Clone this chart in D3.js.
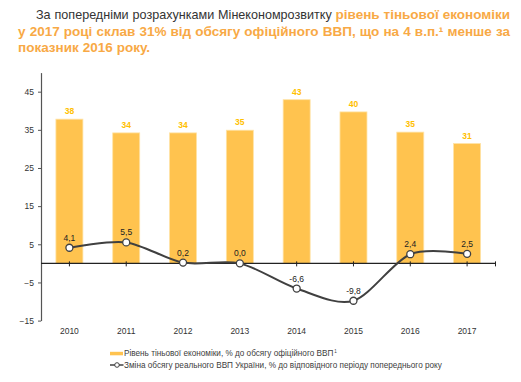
<!DOCTYPE html>
<meta charset="utf-8">
<style>
body { margin: 0; background: #fff; font-family: Arial, "Liberation Sans", sans-serif; }
.axis text { font-size: 8.5px; fill: #333; }
.lbl { font-size: 8.5px; fill: #333; }
.barlbl { font-size: 8.5px; font-weight: bold; fill: #FFC000; }
.legend text { font-size: 8.2px; fill: #404040; }
</style>
<svg width="521" height="382"></svg>
<script src="https://d3js.org/d3.v7.min.js"></script>
<script>

var years = ["2010", "2011", "2012", "2013", "2014", "2015", "2016", "2017"];
var shadow = [37.8, 34.2, 34.2, 34.9, 42.9, 39.7, 34.4, 31.4];
var shadowLabels = ["38", "34", "34", "35", "43", "40", "35", "31"];
var gdp = [4.1, 5.5, 0.2, 0.0, -6.6, -9.8, 2.4, 2.5];
var gdpLabels = ["4,1", "5,5", "0,2", "0,0", "-6,6", "-9,8", "2,4", "2,5"];
var yTicks = [45, 35, 25, 15, 5, -5, -15];

var svg = d3.select("svg");

// --- heading, justified by hand
var gray = "#333", orange = "#F8A945";
var heading = [
  {x: 36, y: 19, justify: true, parts: [
    {t: "За попередніми розрахунками Мінекономрозвитку", bold: false},
    {t: "рівень тіньової економіки", bold: true}]},
  {x: 18, y: 35.5, justify: true, parts: [
    {t: "у 2017 році склав 31% від обсягу офіційного ВВП, що на 4 в.п.¹ менше за", bold: true}]},
  {x: 18, y: 51.5, justify: false, parts: [
    {t: "показник 2016 року.", bold: true}]}
];
var right = 510;
heading.forEach(function(line) {
  var words = [];
  line.parts.forEach(function(p) {
    p.t.split(" ").forEach(function(w) { words.push({w: w, bold: p.bold}); });
  });
  var nodes = words.map(function(d) {
    return svg.append("text")
      .attr("y", line.y)
      .style("font-size", d.bold ? "13.5px" : "12.6px")
      .style("font-weight", d.bold ? "bold" : "normal")
      .attr("fill", d.bold ? orange : gray)
      .text(d.w);
  });
  var widths = nodes.map(function(n) { return n.node().getComputedTextLength(); });
  var total = d3.sum(widths);
  var gap = line.justify ? (right - line.x - total) / (words.length - 1) : 4;
  var cx = line.x;
  nodes.forEach(function(n, i) {
    n.attr("x", cx);
    cx += widths[i] + gap;
  });
});

// --- chart
var left = 41, plotRight = 495.5;
var x = d3.scaleBand().domain(years).range([left, plotRight]);
var y = d3.scaleLinear().domain([-15, 50]).range([320.6, 72.6]);
var cxOf = function(i) { return x(years[i]) + x.bandwidth() / 2; };
var bw = 27;

var g = svg.append("g");

g.selectAll("rect.bar").data(shadow).enter().append("rect")
  .attr("class", "bar")
  .attr("x", function(d, i) { return cxOf(i) - bw / 2; })
  .attr("width", bw)
  .attr("y", function(d) { return y(d); })
  .attr("height", function(d) { return y(0) - y(d); })
  .attr("fill", "#FFC34F")
  .attr("stroke", "#FFE3A6")
  .attr("stroke-width", 0.8);

g.selectAll("text.barlbl").data(shadow).enter().append("text")
  .attr("class", "barlbl")
  .attr("x", function(d, i) { return cxOf(i); })
  .attr("y", function(d) { return y(d) - 5; })
  .attr("text-anchor", "middle")
  .text(function(d, i) { return shadowLabels[i]; });

// y axis
var yAxis = g.append("g").attr("class", "axis")
  .attr("transform", "translate(" + left + ",0)")
  .call(d3.axisLeft(y).tickValues(yTicks).tickSize(3).tickPadding(4).tickSizeOuter(0));
yAxis.select(".domain").attr("stroke", "#555").attr("stroke-width", 1.2);
yAxis.selectAll(".tick line").attr("stroke", "#555");

// zero line with ticks at category centres
g.append("line")
  .attr("x1", left).attr("x2", plotRight)
  .attr("y1", y(0)).attr("y2", y(0))
  .attr("stroke", "#222").attr("stroke-width", 1.3);
g.selectAll("line.ztick").data(years.concat(["end"])).enter().append("line")
  .attr("class", "ztick")
  .attr("x1", function(d, i) { return i < years.length ? cxOf(i) : plotRight; })
  .attr("x2", function(d, i) { return i < years.length ? cxOf(i) : plotRight; })
  .attr("y1", y(0) - 2).attr("y2", y(0) + 3)
  .attr("stroke", "#222");

// category labels
g.selectAll("text.xl").data(years).enter().append("text")
  .attr("class", "lbl")
  .attr("x", function(d, i) { return cxOf(i); })
  .attr("y", 334)
  .attr("text-anchor", "middle")
  .text(function(d) { return d; });

// gdp line
var line = d3.line()
  .curve(d3.curveCardinal.tension(0.1))
  .x(function(d, i) { return cxOf(i); })
  .y(function(d) { return y(d); });

g.append("path").datum(gdp)
  .attr("d", line)
  .attr("fill", "none")
  .attr("stroke", "#404040")
  .attr("stroke-width", 2);

g.selectAll("circle.pt").data(gdp).enter().append("circle")
  .attr("cx", function(d, i) { return cxOf(i); })
  .attr("cy", function(d) { return y(d); })
  .attr("r", 3.5)
  .attr("fill", "#fff")
  .attr("stroke", "#404040")
  .attr("stroke-width", 1.3);

g.selectAll("text.gl").data(gdp).enter().append("text")
  .attr("class", "lbl")
  .attr("x", function(d, i) { return cxOf(i); })
  .attr("y", function(d) { return y(d) - 7; })
  .attr("text-anchor", "middle")
  .style("fill", "#222")
  .text(function(d, i) { return gdpLabels[i]; });

// legend
var lg = svg.append("g").attr("class", "legend");
lg.append("rect").attr("x", 110).attr("y", 351.8).attr("width", 13).attr("height", 3.5).attr("fill", "#FFC34F");
var t1 = lg.append("text").attr("x", 124).attr("y", 356.3);
t1.append("tspan").text("Рівень тіньової економіки, % до обсягу офіційного ВВП");
t1.append("tspan").attr("dx", 1).attr("dy", -3.5).style("font-size", "4.5px").text("1");
lg.append("line").attr("x1", 110).attr("x2", 123.5).attr("y1", 365).attr("y2", 365)
  .attr("stroke", "#404040").attr("stroke-width", 1.5);
lg.append("circle").attr("cx", 117).attr("cy", 365).attr("r", 2.3)
  .attr("fill", "#fff").attr("stroke", "#404040").attr("stroke-width", 1);
lg.append("text").attr("x", 124).attr("y", 368)
  .text("Зміна обсягу реального ВВП України, % до відповідного періоду попереднього року");

</script>
